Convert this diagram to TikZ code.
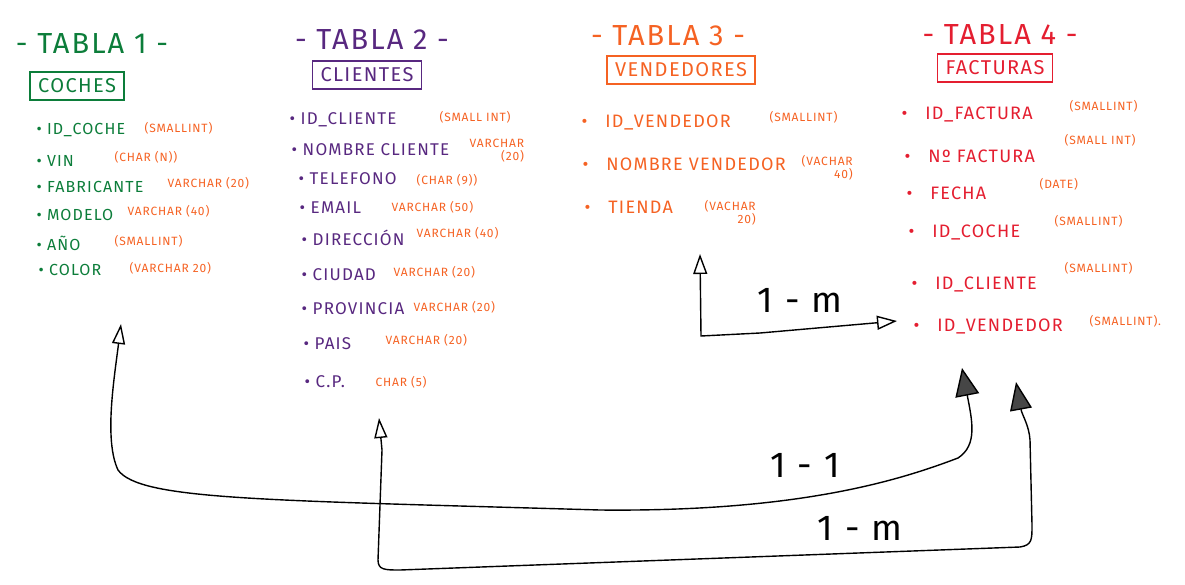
\documentclass[tikz,border=0pt]{standalone}
\usepackage{fontspec}
\setmainfont{Fira Sans}
\newfontfamily\handfont[LetterSpace=7]{Fira Sans}
\usetikzlibrary{arrows.meta}
\definecolor{tgreen}{RGB}{12,125,58}
\definecolor{tpurple}{RGB}{88,40,128}
\definecolor{torange}{RGB}{245,98,35}
\definecolor{tred}{RGB}{228,30,48}
\definecolor{tipgray}{RGB}{70,70,70}

\begin{document}
\begin{tikzpicture}[x=1pt,y=-1pt]
\tikzstyle{title_style} = [font=\handfont\fontsize{29}{31}\selectfont]
\tikzstyle{head_style} = [draw, line width=1.3, inner xsep=8, inner ysep=7, font=\handfont\fontsize{20}{22}\selectfont]
\tikzstyle{item_style} = [anchor=west, font=\handfont\fontsize{16}{18}\selectfont]
\tikzstyle{mid_item_style} = [anchor=west, font=\handfont\fontsize{17}{19}\selectfont]
\tikzstyle{big_item_style} = [anchor=west, font=\handfont\fontsize{18}{20}\selectfont]
\tikzstyle{type_style} = [anchor=west, torange, align=right, font=\handfont\fontsize{12}{13}\selectfont]
\tikzstyle{rel_style} = [black, line width=1.4]
\tikzstyle{label_style} = [font=\handfont\fontsize{36}{38}\selectfont]
    \useasboundingbox (0,0) rectangle (1185,584);

    % tabla 1
    \node[title_style, tgreen] (t1) at (92,44) {- TABLA 1 -};
    \node[head_style, tgreen] (h1) at (77,86) {COCHES};
    \node[item_style, tgreen] (c1) at (33,130) {\textbullet\ ID\_COCHE};
    \node[item_style, tgreen] (c2) at (33,161) {\textbullet\ VIN};
    \node[item_style, tgreen] (c3) at (33,187) {\textbullet\ FABRICANTE};
    \node[item_style, tgreen] (c4) at (33,215) {\textbullet\ MODELO};
    \node[item_style, tgreen] (c5) at (33,243) {\textbullet\ AÑO};
    \node[item_style, tgreen] (c6) at (35,270) {\textbullet\ COLOR};
    \node[type_style] (ct1) at (141,128) {(SMALLINT)};
    \node[type_style] (ct2) at (111,157) {(CHAR (N))};
    \node[type_style] (ct3) at (164,183) {VARCHAR (20)};
    \node[type_style] (ct4) at (124,211) {VARCHAR (40)};
    \node[type_style] (ct5) at (111,241) {(SMALLINT)};
    \node[type_style] (ct6) at (126,268) {(VARCHAR 20)};

    % tabla 2
    \node[title_style, tpurple] (t2) at (372,40) {- TABLA 2 -};
    \node[head_style, tpurple] (h2) at (367,75) {CLIENTES};
    \node[mid_item_style, tpurple] (l1) at (286,120) {\textbullet\ ID\_CLIENTE};
    \node[mid_item_style, tpurple] (l2) at (288,150) {\textbullet\ NOMBRE CLIENTE};
    \node[mid_item_style, tpurple] (l3) at (295,179) {\textbullet\ TELEFONO};
    \node[mid_item_style, tpurple] (l4) at (296,208) {\textbullet\ EMAIL};
    \node[mid_item_style, tpurple] (l5) at (298,238) {\textbullet\ DIRECCIÓN};
    \node[mid_item_style, tpurple] (l6) at (298,275) {\textbullet\ CIUDAD};
    \node[mid_item_style, tpurple] (l7) at (298,309) {\textbullet\ PROVINCIA};
    \node[mid_item_style, tpurple] (l8) at (300,344) {\textbullet\ PAIS};
    \node[mid_item_style, tpurple] (l9) at (301,382) {\textbullet\ C.P.};
    \node[type_style] (lt1) at (436,117) {(SMALL INT)};
    \node[type_style] (lt2) at (466,151) {VARCHAR\\(20)};
    \node[type_style] (lt3) at (413,180) {(CHAR (9))};
    \node[type_style] (lt4) at (388,207) {VARCHAR (50)};
    \node[type_style] (lt5) at (413,233) {VARCHAR (40)};
    \node[type_style] (lt6) at (390,272) {VARCHAR (20)};
    \node[type_style] (lt7) at (410,307) {VARCHAR (20)};
    \node[type_style] (lt8) at (382,340) {VARCHAR (20)};
    \node[type_style] (lt9) at (372,382) {CHAR (5)};

    % tabla 3
    \node[title_style, torange] (t3) at (668,36) {- TABLA 3 -};
    \node[head_style, torange] (h3) at (681,70) {VENDEDORES};
    \node[big_item_style, torange] (v1) at (578,122) {\textbullet\quad ID\_VENDEDOR};
    \node[big_item_style, torange] (v2) at (579,164) {\textbullet\quad NOMBRE VENDEDOR};
    \node[big_item_style, torange] (v3) at (581,207) {\textbullet\quad TIENDA};
    \node[type_style] (vt1) at (766,117) {(SMALLINT)};
    \node[type_style] (vt2) at (798,168) {(VACHAR\\40)};
    \node[type_style] (vt3) at (701,213) {(VACHAR\\20)};

    % tabla 4
    \node[title_style, tred] (t4) at (1000,35) {- TABLA 4 -};
    \node[head_style, tred] (h4) at (995,68) {FACTURAS};
    \node[big_item_style, tred] (f1) at (898,114) {\textbullet\quad ID\_FACTURA};
    \node[big_item_style, tred] (f2) at (901,156) {\textbullet\quad Nº FACTURA};
    \node[big_item_style, tred] (f3) at (903,193) {\textbullet\quad FECHA};
    \node[big_item_style, tred] (f4) at (905,232) {\textbullet\quad ID\_COCHE};
    \node[big_item_style, tred] (f5) at (908,284) {\textbullet\quad ID\_CLIENTE};
    \node[big_item_style, tred] (f6) at (910,326) {\textbullet\quad ID\_VENDEDOR};
    \node[type_style] (ft1) at (1066,106) {(SMALLINT)};
    \node[type_style] (ft2) at (1061,140) {(SMALL INT)};
    \node[type_style] (ft3) at (1036,184) {(DATE)};
    \node[type_style] (ft4) at (1051,221) {(SMALLINT)};
    \node[type_style] (ft5) at (1061,268) {(SMALLINT)};
    \node[type_style] (ft6) at (1086,321) {(SMALLINT).};

    % relaciones
    \coordinate (vend_end) at (700,254);
    \coordinate (fvend_end) at (897,321);
    \coordinate (coche_end) at (121,324);
    \coordinate (fcoche_end) at (962,368);
    \coordinate (cli_end) at (379,418);
    \coordinate (fcli_end) at (1016,382);

    \draw[rel_style, {Triangle[open, length=20pt, width=14pt]}-{Triangle[open, length=20pt, width=14pt]}]
        (vend_end) -- (701,336) -- (760,333) -- (fvend_end);
    \draw[rel_style, {Triangle[open, length=20pt, width=13pt]}-{Triangle[fill=tipgray, length=28pt, width=24pt]}]
        (coche_end) .. controls (114,380) and (104,440) .. (118,470)
        .. controls (140,500) and (260,500) .. (600,510)
        .. controls (800,512) and (900,480) .. (958,458)
        .. controls (978,445) and (972,420) .. (fcoche_end);
    \draw[rel_style, {Triangle[open, length=20pt, width=13pt]}-{Triangle[fill=tipgray, length=28pt, width=22pt]}]
        (cli_end) -- (382,450) -- (378,560) .. controls (378,570) and (385,570) .. (400,570)
        -- (1020,547) .. controls (1032,545) and (1032,540) .. (1032,525)
        -- (1030,440) .. controls (1029,425) and (1022,415) .. (fcli_end);

    \node[label_style] (rel1) at (800,300) {1 - m};
    \node[label_style] (rel2) at (805,465) {1 - 1};
    \node[label_style] (rel3) at (860,528) {1 - m};
\end{tikzpicture}
\end{document}
